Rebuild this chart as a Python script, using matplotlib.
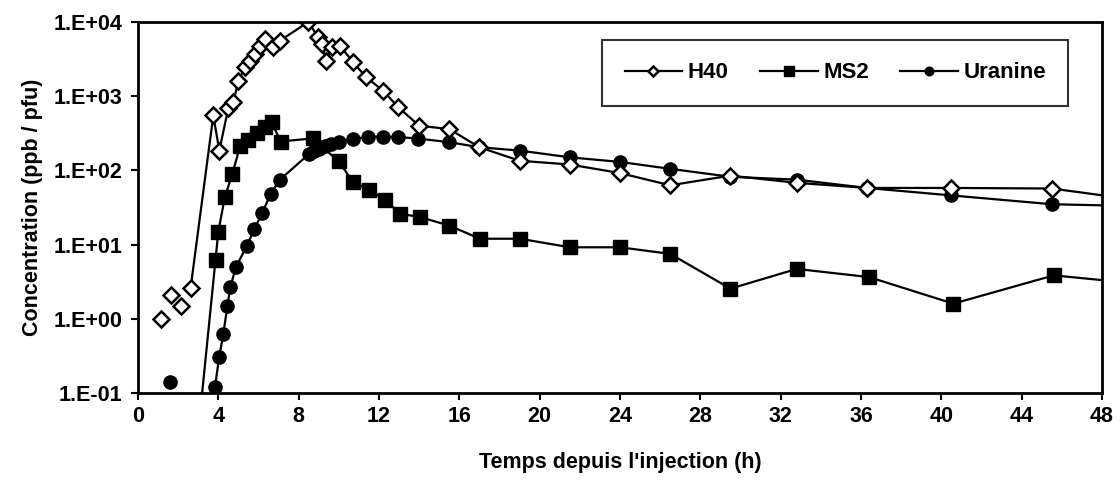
import numpy as np
import matplotlib
matplotlib.use("Agg")
import matplotlib.pyplot as plt
from matplotlib.ticker import FixedLocator, FuncFormatter

plt.rcParams['font.family'] = ['Liberation Sans', 'DejaVu Sans']
plt.rcParams['font.weight'] = 'bold'

# H40 (phage tracer) - first few samples are not joined to the curve
h40_t_iso = [1.14, 1.63, 2.13]
h40_v_iso = [1.0, 2.1, 1.5]
h40_t = [2.62, 3.75, 4.05, 4.5, 4.75, 5.0, 5.33, 5.58, 5.83, 6.08, 6.32, 6.74, 7.07,
         8.48, 8.98, 9.15, 9.36, 9.64, 10.06, 10.72, 11.36, 12.2, 12.96, 14.0, 15.5,
         17.0, 19.0, 21.5, 24.0, 26.5, 29.5, 32.8, 36.3, 40.5, 45.5, 52.0]
h40_v = [2.6, 550, 185, 695, 830, 1620, 2450, 3000, 3700, 4800, 5900, 4550, 5600,
         10000, 6200, 5000, 3000, 4550, 4800, 2850, 1800, 1190, 710, 400, 360,
         205, 135, 120, 92, 63, 85, 68, 58, 58, 57, 33]

# MS2 (phage)
ms2_t = [3.0, 3.86, 4.0, 4.33, 4.7, 5.08, 5.5, 5.95, 6.3, 6.66, 7.1, 8.7, 10.0, 10.7,
         11.5, 12.3, 13.05, 14.05, 15.5, 17.03, 19.02, 21.5, 24.0, 26.5, 29.5, 32.8,
         36.4, 40.6, 45.6, 52.0]
ms2_v = [0.03, 6.2, 15, 44, 90, 210, 255, 315, 390, 445, 245, 270, 132, 70,
         55, 40, 26, 23.5, 18, 12, 12, 9.2, 9.2, 7.5, 2.55, 4.7,
         3.65, 1.6, 3.85, 2.6]

# Uranine (dye)
ura_t_iso = [1.58]
ura_v_iso = [0.14]
ura_t = [3.83, 4.05, 4.25, 4.45, 4.6, 4.88, 5.41, 5.78, 6.2, 6.6, 7.07, 8.5, 8.75,
         9.0, 9.3, 9.6, 10.0, 10.7, 11.45, 12.2, 12.95, 13.95, 15.5, 17.0, 19.0,
         21.5, 24.0, 26.5, 29.5, 32.8, 36.3, 40.5, 45.5, 52.0]
ura_v = [0.12, 0.31, 0.63, 1.47, 2.7, 5.0, 9.5, 16, 27, 48, 75, 165, 180,
         195, 210, 225, 240, 262, 285, 285, 282, 268, 240, 205, 185,
         150, 130, 105, 82, 75, 58, 46, 35, 32]

x_ticks = list(range(0, 49, 4))
y_ticks = [0.1, 1, 10, 100, 1000, 10000]

fig = plt.figure(figsize=(11.2, 4.83), dpi=100)
ax = fig.add_axes([0.1232, 0.1863, 0.8607, 0.7682])

lw = 1.6
ura_line, = ax.plot(ura_t, ura_v, '-o', color='black', lw=lw, ms=9.5,
                    mfc='black', mec='black', label='Uranine')
ax.plot(ura_t_iso, ura_v_iso, 'o', color='black', ms=9.5, mfc='black', mec='black')

ms2_line, = ax.plot(ms2_t, ms2_v, '-s', color='black', lw=lw, ms=10,
                    mfc='black', mec='black', label='MS2')

h40_line, = ax.plot(h40_t, h40_v, '-D', color='black', lw=lw, ms=8.5,
                    mfc='white', mec='black', mew=1.8, label='H40')
ax.plot(h40_t_iso, h40_v_iso, 'D', ms=8.5, mfc='white', mec='black', mew=1.8)

ax.set_yscale('log')
ax.set_xlim(0, 48)
ax.set_ylim(0.1, 10000)
ax.xaxis.set_major_locator(FixedLocator(x_ticks))
ax.yaxis.set_major_locator(FixedLocator(y_ticks))
ax.yaxis.set_minor_locator(FixedLocator([]))
ax.yaxis.set_major_formatter(FuncFormatter(lambda v, p: "1.E%+03d" % int(round(np.log10(v)))))

ax.tick_params(axis='both', direction='out', length=5, width=1.5, labelsize=15.5)
ax.tick_params(axis='y', pad=6)
ax.tick_params(axis='x', pad=4)
for lab in ax.get_xticklabels() + ax.get_yticklabels():
    lab.set_fontweight('bold')
for sp in ax.spines.values():
    sp.set_linewidth(2)

ax.set_xlabel("Temps depuis l'injection (h)", fontsize=15.5, fontweight='bold', labelpad=18)
ax.set_ylabel("Concentration (ppb / pfu)", fontsize=15.5, fontweight='bold', labelpad=8)

leg = ax.legend(handles=[h40_line, ms2_line, ura_line], ncol=3, loc='upper right',
                bbox_to_anchor=(0.965, 0.951), borderaxespad=0, frameon=True, fancybox=False,
                handlelength=2.6, handletextpad=0.25, columnspacing=1.4,
                borderpad=1.0, fontsize=16, markerscale=0.65)
leg.get_frame().set_edgecolor('black')
leg.get_frame().set_linewidth(1.5)
for t in leg.get_texts():
    t.set_fontweight('bold')

fig.savefig('out.png', dpi=100, facecolor='white')
